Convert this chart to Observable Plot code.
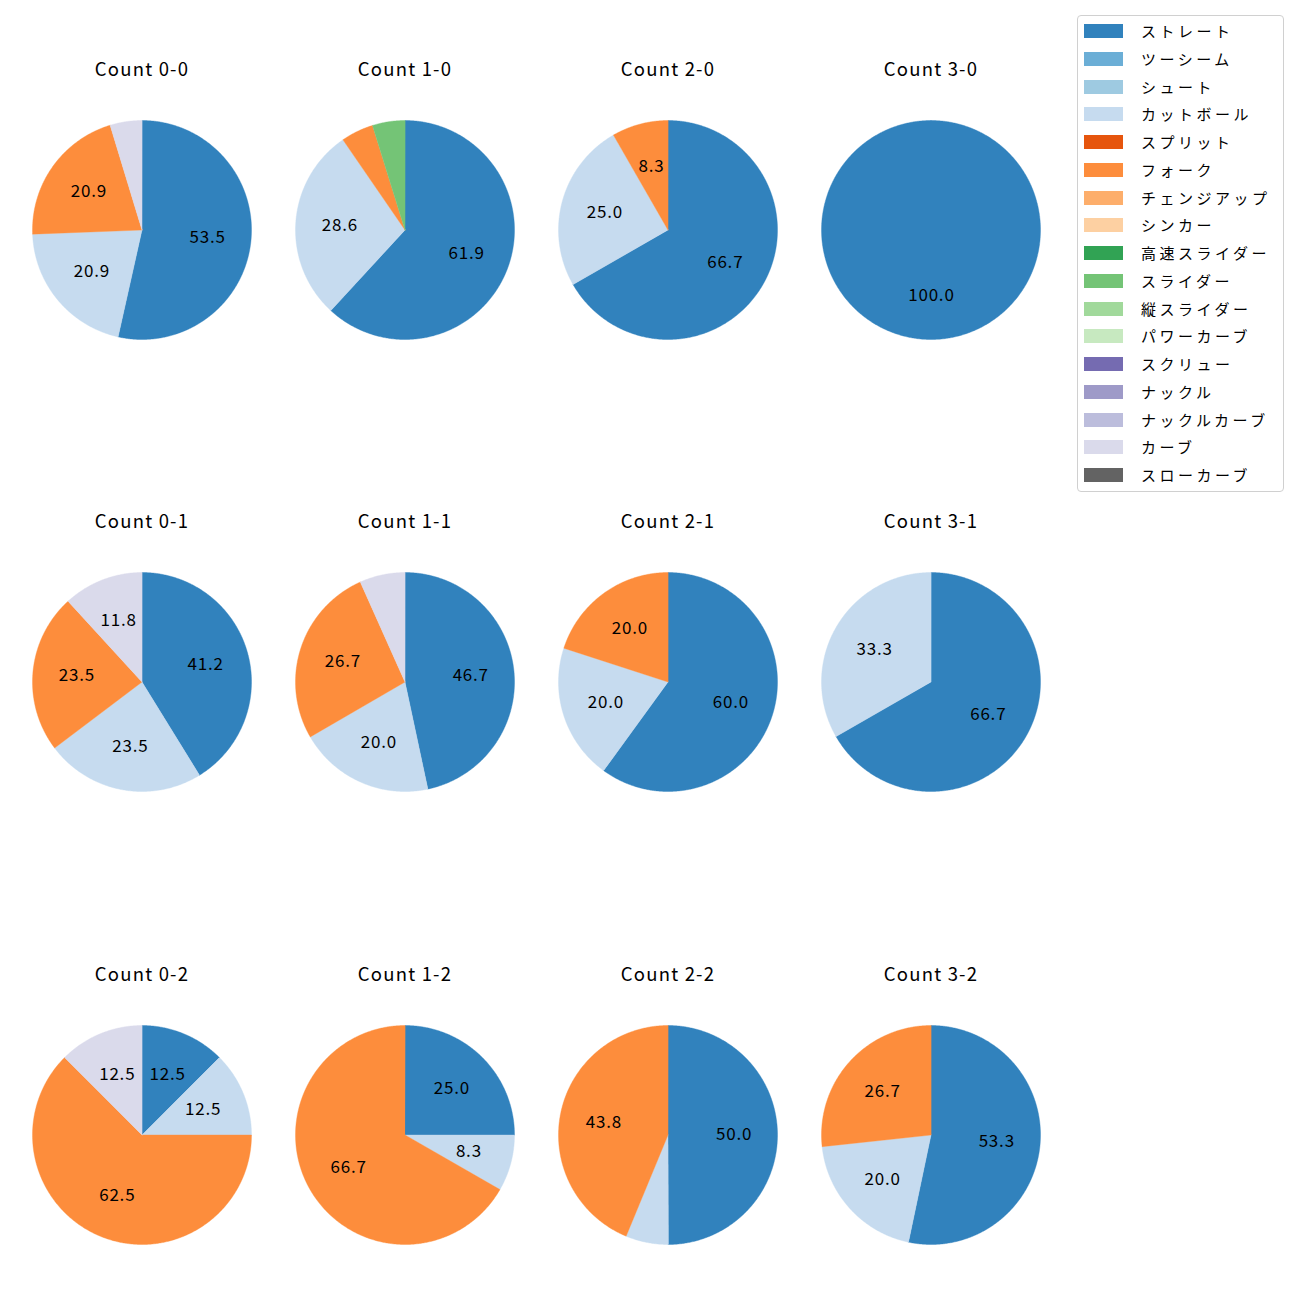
<!DOCTYPE html>
<html>
<head>
<meta charset="utf-8">
<script src="https://cdn.jsdelivr.net/npm/d3@7"></script>
<script src="https://cdn.jsdelivr.net/npm/@observablehq/plot@0.6"></script>
<style>
  html, body { margin: 0; padding: 0; background: #fff; }
  body { font-family: "Noto Sans CJK JP", "Noto Sans", sans-serif; }
  #root { position: relative; width: 1300px; height: 1300px; overflow: hidden; }
  .title { position: absolute; width: 260px; text-align: center; font-size: 18.5px; letter-spacing: 1.2px; line-height: 22px; color: #000; }
  .pie { position: absolute; }
  #legend { position: absolute; left: 1077px; top: 15px; width: 207px; height: 477px; border: 1px solid #d0d0d0; border-radius: 4px; background: #fff; box-sizing: border-box; }
  .lrow { position: absolute; left: 0; height: 20px; font-size: 15px; color: #000; }
  .lsw { position: absolute; left: 6px; top: 3px; width: 39px; height: 14px; }
  .ltx { position: absolute; left: 63px; top: 0; white-space: nowrap; line-height: 20px; letter-spacing: 3.5px; }
</style>
</head>
<body>
<div id="root"></div>
<script>
// ---- data ----
const pitchTypes = ["ストレート","ツーシーム","シュート","カットボール","スプリット","フォーク","チェンジアップ","シンカー","高速スライダー","スライダー","縦スライダー","パワーカーブ","スクリュー","ナックル","ナックルカーブ","カーブ","スローカーブ"];
const palette = ["#3182bd","#6baed6","#9ecae1","#c6dbef","#e6550d","#fd8d3c","#fdae6b","#fdd0a2","#31a354","#74c476","#a1d99b","#c7e9c0","#756bb1","#9e9ac8","#bcbddc","#dadaeb","#636363"];
const countLabels = ["0-0","1-0","2-0","3-0","0-1","1-1","2-1","3-1","0-2","1-2","2-2","3-2"];
// percentages per pitch type for each count (same order as countLabels)
const straight = [53.5, 61.9, 66.7, 100.0, 41.2, 46.7, 60.0, 66.7, 12.5, 25.0, 50.0, 53.3];
const cutter   = [20.9, 28.6, 25.0,   0.0, 23.5, 20.0, 20.0, 33.3, 12.5,  8.3,  6.3, 20.0];
const fork     = [20.9,  4.8,  8.3,   0.0, 23.5, 26.7, 20.0,  0.0, 62.5, 66.7, 43.8, 26.7];
const slider   = [ 0.0,  4.8,  0.0,   0.0,  0.0,  0.0,  0.0,  0.0,  0.0,  0.0,  0.0,  0.0];
const curve    = [ 4.7,  0.0,  0.0,   0.0, 11.8,  6.7,  0.0,  0.0, 12.5,  0.0,  0.0,  0.0];
const seriesByPitch = {"ストレート": straight, "カットボール": cutter, "フォーク": fork, "スライダー": slider, "カーブ": curve};
const labelMin = 7; // slices smaller than this are not labelled

// ---- layout ----
const colX = [141, 404, 667, 930];
const rowY = [229, 681, 1134];
const R = 109.5;
const size = 241;
const root = document.getElementById("root");

countLabels.forEach((c, i) => {
  const col = i % 4, row = Math.floor(i / 4);
  const cx = colX[col], cy = rowY[row];
  const rows = pitchTypes
    .filter(p => seriesByPitch[p] && seriesByPitch[p][i] > 0)
    .map(p => ({pitch: p, value: seriesByPitch[p][i]}));
  const arcs = d3.pie().sort(null).value(d => d.value)(rows);
  const poly = [];
  const labels = [];
  arcs.forEach((a, k) => {
    const p = a.data.pitch;
    const n = Math.max(2, Math.ceil((a.endAngle - a.startAngle) / (Math.PI / 360)));
    const full = a.endAngle - a.startAngle >= 2 * Math.PI - 1e-9;
    if (!full) poly.push({id: k, pitch: p, x: 0, y: 0});
    for (let j = 0; j <= n; j++) {
      const t = a.startAngle + (a.endAngle - a.startAngle) * j / n;
      poly.push({id: k, pitch: p, x: Math.sin(t), y: Math.cos(t)});
    }
    if (a.data.value >= labelMin) {
      const m = (a.startAngle + a.endAngle) / 2;
      labels.push({x: 0.6 * Math.sin(m), y: 0.6 * Math.cos(m), text: a.data.value.toFixed(1)});
    }
  });
  const plot = Plot.plot({
    width: size, height: size,
    margin: 0,
    x: {domain: [-size / 2 / R, size / 2 / R], axis: null},
    y: {domain: [-size / 2 / R, size / 2 / R], axis: null},
    color: {domain: pitchTypes, range: palette},
    style: {background: "transparent", overflow: "visible"},
    marks: [
      Plot.line(poly, {x: "x", y: "y", z: "id", fill: "pitch", stroke: "pitch", strokeWidth: 0.4, curve: "linear-closed"}),
      Plot.text(labels, {x: "x", y: "y", text: "text", fill: "#000", fontSize: 17, fontFamily: "Noto Sans CJK JP", textAnchor: "middle", lineAnchor: "middle", dx: 0.4})
    ]
  });
  plot.querySelectorAll("text").forEach(el => el.style.letterSpacing = "0.8px");
  plot.classList.add("pie");
  plot.style.left = (cx - size / 2) + "px";
  plot.style.top = (cy - size / 2) + "px";
  root.appendChild(plot);

  const t = document.createElement("div");
  t.className = "title";
  t.textContent = "Count " + c;
  t.style.left = (cx - 130 + 1) + "px";
  t.style.top = (rowY[row] - 229 + 57) + "px";
  root.appendChild(t);
});

// ---- legend ----
const legend = document.createElement("div");
legend.id = "legend";
pitchTypes.forEach((p, i) => {
  const r = document.createElement("div");
  r.className = "lrow";
  r.style.top = (30 - 15 - 10 + i * 27.75) + "px";
  r.style.width = "200px";
  const sw = document.createElement("div");
  sw.className = "lsw";
  sw.style.background = palette[i];
  const tx = document.createElement("div");
  tx.className = "ltx";
  tx.textContent = p;
  r.appendChild(sw); r.appendChild(tx);
  legend.appendChild(r);
});
root.appendChild(legend);
</script>
</body>
</html>
